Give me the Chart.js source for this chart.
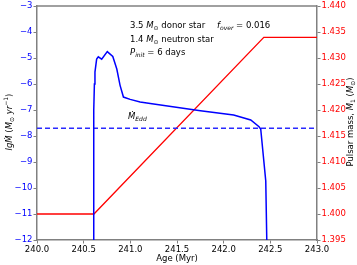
<!DOCTYPE html>
<html>
<head>
<meta charset="utf-8">
<script src="https://cdn.jsdelivr.net/npm/chart.js@4"></script>
<style>
  html, body { margin: 0; padding: 0; background: #fff; }
  canvas { display: block; }
</style>
</head>
<body>
<canvas id="chart" width="357" height="265"></canvas>
<script>
// mass transfer rate (log Mdot) vs age
const ageBlue = [240.603, 240.606, 240.610, 240.615, 240.621, 240.639, 240.657, 240.693, 240.753, 240.812,
                 240.855, 240.890, 240.926, 240.998, 241.105, 241.213, 241.751, 242.107, 242.290, 242.379,
                 242.397, 242.451, 242.462];
const mdot = [-12, -9.0, -7.0, -6.0, -5.54, -5.04, -4.95, -5.04, -4.75, -4.94,
              -5.42, -6.05, -6.50, -6.59, -6.69, -6.75, -7.03, -7.19, -7.38, -7.64,
              -7.73, -9.73, -12];
// pulsar mass vs age
const ageRed = [240.0, 240.61, 242.43, 243.0];
const massRed = [1.400, 1.400, 1.434, 1.434];
// Eddington rate
const eddAge = [240.0, 243.0];
const eddRate = -7.7;

const xTicks = [240.0, 240.5, 241.0, 241.5, 242.0, 242.5, 243.0];
const leftTicks = [-12, -11, -10, -9, -8, -7, -6, -5, -4, -3];
const rightTicks = [1.395, 1.400, 1.405, 1.410, 1.415, 1.420, 1.425, 1.430, 1.435, 1.440];

const FONT = 'DejaVu Sans';
const styles = {
  n: '8.5px "' + FONT + '"',
  i: 'italic 8.5px "' + FONT + '"',
  sub: '6px "' + FONT + '"',
  subi: 'italic 6px "' + FONT + '"',
  sup: '6px "' + FONT + '"'
};
const shift = { n: 0, i: 0, sub: 2.5, subi: 2.5, sup: -3.5 };

function richWidth(ctx, parts) {
  let w = 0;
  parts.forEach(p => { ctx.font = styles[p[1]]; w += ctx.measureText(p[0]).width; });
  return w;
}
function rich(ctx, x, y, parts) {
  parts.forEach(p => {
    ctx.font = styles[p[1]];
    ctx.fillText(p[0], x, y + shift[p[1]]);
    x += ctx.measureText(p[0]).width;
  });
}

const textPlugin = {
  id: 'texts',
  afterDraw(chart) {
    const { ctx, chartArea: a } = chart;
    ctx.save();
    ctx.strokeStyle = '#808080';
    ctx.lineWidth = 1.5;
    ctx.beginPath();
    ctx.moveTo(a.left, a.top);
    ctx.lineTo(a.right, a.top);
    ctx.stroke();

    ctx.fillStyle = '#000';
    ctx.textBaseline = 'middle';
    ctx.textAlign = 'left';
    rich(ctx, 130, 26, [['3.5 ', 'n'], ['M', 'i'], ['\u2299', 'sub'], [' donor star', 'n']]);
    rich(ctx, 217, 26, [['f', 'i'], ['over', 'subi'], [' = 0.016', 'n']]);
    rich(ctx, 130, 39.5, [['1.4 ', 'n'], ['M', 'i'], ['\u2299', 'sub'], [' neutron star', 'n']]);
    rich(ctx, 130, 53, [['P', 'i'], ['init', 'subi'], [' = 6 days', 'n']]);
    rich(ctx, 128, 117, [['M\u0307', 'i'], ['Edd', 'subi']]);

    // axis titles
    const xt = [['Age (Myr)', 'n']];
    rich(ctx, 177 - richWidth(ctx, xt) / 2, 259, xt);

    const lt = [['lgM\u0307', 'i'], [' (', 'n'], ['M', 'i'], ['\u2299', 'sub'], [' yr', 'i'], ['\u22121', 'sup'], [')', 'n']];
    ctx.save();
    ctx.translate(10, 122);
    ctx.rotate(-Math.PI / 2);
    rich(ctx, -richWidth(ctx, lt) / 2, 0, lt);
    ctx.restore();

    const rt = [['Pulsar mass, ', 'n'], ['M', 'i'], ['1', 'sub'], [' (', 'n'], ['M', 'i'], ['\u2299', 'sub'], [')', 'n']];
    ctx.save();
    ctx.translate(351, 122);
    ctx.rotate(-Math.PI / 2);
    rich(ctx, -richWidth(ctx, rt) / 2, 0, rt);
    ctx.restore();
    ctx.restore();
  }
};

const tickFont = { family: FONT, size: 8.5 };
const axisGrid = { display: true, drawOnChartArea: false, drawTicks: true, tickLength: 3.5, color: '#808080', lineWidth: 1 };
const axisBorder = { display: true, color: '#808080', width: 1.5 };

const config = {
  type: 'line',
  data: {
    datasets: [{
      label: 'Mdot',
      data: ageBlue.map((a, k) => ({ x: a, y: mdot[k] })),
      borderColor: '#0000ff',
      borderWidth: 1.5,
      pointRadius: 0,
      yAxisID: 'y'
    }, {
      label: 'Edd',
      data: eddAge.map(a => ({ x: a, y: eddRate })),
      borderColor: '#2a2aff',
      borderWidth: 1.5,
      borderDash: [5, 3],
      pointRadius: 0,
      yAxisID: 'y'
    }, {
      label: 'Mass',
      data: ageRed.map((a, k) => ({ x: a, y: massRed[k] })),
      borderColor: '#ff0000',
      borderWidth: 1.3,
      pointRadius: 0,
      yAxisID: 'y1'
    }]
  },
  options: {
    responsive: false,
    animation: false,
    layout: { padding: { top: 3 } },
    plugins: { legend: { display: false }, tooltip: { enabled: false } },
    scales: {
      x: {
        type: 'linear', min: 240, max: 243,
        afterBuildTicks: s => { s.ticks = xTicks.map(v => ({ value: v })); },
        afterFit: s => { s.height = 25; },
        ticks: { font: tickFont, color: '#000', padding: 1, maxRotation: 0, callback: v => v.toFixed(1) },
        grid: axisGrid, border: axisBorder
      },
      y: {
        position: 'left', min: -12, max: -3,
        afterBuildTicks: s => { s.ticks = leftTicks.map(v => ({ value: v })); },
        afterFit: s => { s.width = 37; },
        ticks: { font: tickFont, color: '#0000ff', padding: 1, callback: v => String(v).replace('-', '\u2212') },
        grid: axisGrid, border: axisBorder
      },
      y1: {
        position: 'right', min: 1.395, max: 1.440,
        afterBuildTicks: s => { s.ticks = rightTicks.map(v => ({ value: v })); },
        afterFit: s => { s.width = 40; },
        ticks: { font: tickFont, color: '#ff0000', padding: 1, callback: v => v.toFixed(3) },
        grid: axisGrid, border: axisBorder
      }
    }
  },
  plugins: [textPlugin]
};

new Chart(document.getElementById('chart'), config);
</script>
</body>
</html>
